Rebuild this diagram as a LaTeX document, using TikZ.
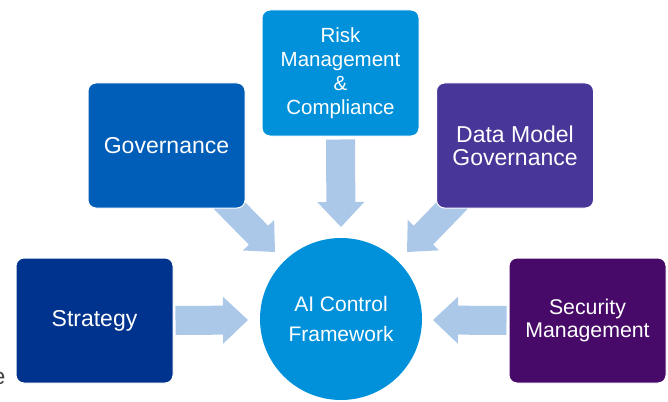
\documentclass[tikz,border=0pt]{standalone}
\usepackage{fontspec}
\setmainfont{Liberation Sans}
\usetikzlibrary{calc,backgrounds}
\definecolor{cStrat}{HTML}{00338D}
\definecolor{cGov}{HTML}{005EB8}
\definecolor{cRisk}{HTML}{0091DA}
\definecolor{cData}{HTML}{483698}
\definecolor{cSec}{HTML}{470A68}
\definecolor{cArrow}{HTML}{ABC8E9}
\definecolor{cCut}{HTML}{404040}
% #1 start, #2 tip, #3 body half width, #4 head half width, #5 head length
\newcommand\fatarrow[5]{%
  \coordinate (#2-h) at ($(#2)!#5!(#1)$);
  \fill[arrowfill] ($(#1)!#3!90:(#2)$) -- ($(#2-h)!#3!90:(#2)$) -- ($(#2-h)!#4!90:(#2)$)
    -- (#2) -- ($(#2-h)!#4!-90:(#2)$) -- ($(#2-h)!#3!-90:(#2)$) -- ($(#1)!#3!-90:(#2)$) -- cycle;}
\tikzset{
  box/.style={rounded corners=8pt, draw=white, line width=1pt, text=white, align=center,
    minimum width=157pt, minimum height=125pt, inner sep=0pt},
  hub/.style={circle, fill=cRisk, text=white, align=center, minimum size=162pt, inner sep=0pt},
  arrowfill/.style={fill=cArrow},
}
\begin{document}
\begin{tikzpicture}[x=1pt,y=-1pt]
\useasboundingbox (0,0) rectangle (668,401);
% hub
\node[hub, font=\fontsize{21pt}{30.5pt}\selectfont] (hub) at (341,319) {AI Control\\Framework};
% boxes
\node[box, fill=cStrat, font=\fontsize{23pt}{24pt}\selectfont] (strat) at (94.5,320.5) {Strategy};
\node[box, fill=cGov, font=\fontsize{23pt}{24pt}\selectfont] (gov) at (166.5,145.5) {Governance};
\node[box, fill=cRisk, minimum height=126pt, font=\fontsize{20.5pt}{24pt}\selectfont] (risk) at (340.5,73) {Risk\\Management\\\&\\Compliance};
\node[box, fill=cData, font=\fontsize{23pt}{23pt}\selectfont] (data) at (515,145.5) {Data Model\\Governance};
\node[box, fill=cSec, font=\fontsize{21.3pt}{22.5pt}\selectfont] (sec) at (587.5,320.5) {Security\\Management};
% stray cut-off text at the left edge
\node[anchor=base east, inner sep=0pt, text=cCut, font=\fontsize{23pt}{23pt}\selectfont] (cut) at (5.5,384) {e};
% arrow ends
\coordinate (sS) at ($(strat.east)+(2,0)$);
\coordinate (tS) at (248,320);
\coordinate (sE) at ($(sec.west)+(-2,0)$);
\coordinate (tE) at (433,320);
\coordinate (sR) at ($(risk.south)+(0,3)$);
\coordinate (tR) at (341,227);
\coordinate (sG) at ($(gov.south east)+(-22,-9)$);
\coordinate (tG) at (275,252);
\coordinate (sD) at ($(data.south west)+(22,-9)$);
\coordinate (tD) at (407,252);
\begin{scope}[on background layer]
  \fill[white] (0,0) rectangle (668,401);
  \fatarrow{sS}{tS}{14.5pt}{23.5pt}{25pt}
  \fatarrow{sE}{tE}{14.5pt}{23.5pt}{25pt}
  \fatarrow{sR}{tR}{14.5pt}{23.5pt}{25pt}
  \fatarrow{sG}{tG}{13.5pt}{21.8pt}{23.5pt}
  \fatarrow{sD}{tD}{13.5pt}{21.8pt}{23.5pt}
\end{scope}
\end{tikzpicture}
\end{document}
